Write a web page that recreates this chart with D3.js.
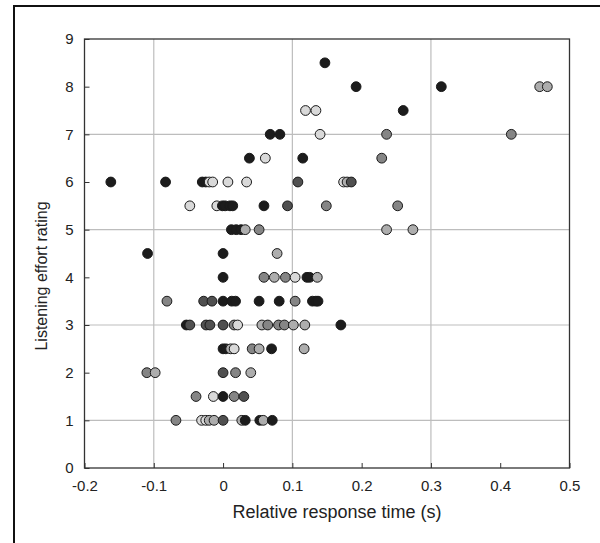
<!DOCTYPE html>
<html>
<head>
<meta charset="utf-8">
<script src="https://d3js.org/d3.v7.min.js"></script>
<style>
body { margin: 0; background: #fff; }
svg { display: block; font-family: 'Liberation Sans', Arial, sans-serif; }
</style>
</head>
<body>
<svg id="chart" width="600" height="543"></svg>
<script>
// points as [relative response time, effort rating], one list per grey level
var blackPts = [
  [0.147, 8.5], [0.192, 8], [0.315, 8], [0.260, 7.5], [0.068, 7], [0.082, 7],
  [0.038, 6.5], [0.115, 6.5], [-0.162, 6], [-0.083, 6], [-0.030, 6], [-0.025, 6],
  [-0.001, 5.5], [0.003, 5.5], [0.010, 5.5], [0.014, 5.5], [0.059, 5.5],
  [0.012, 5], [0.019, 5], [0.026, 5], [-0.109, 4.5], [0.000, 4.5],
  [0.000, 4], [0.121, 4], [0.125, 4],
  [0.000, 3.5], [0.0125, 3.5], [0.018, 3.5], [0.052, 3.5], [0.081, 3.5], [0.129, 3.5], [0.134, 3.5], [0.137, 3.5],
  [-0.053, 3], [0.170, 3], [0.000, 2.5], [0.004, 2.5], [0.070, 2.5],
  [0.000, 1.5], [0.032, 1], [0.053, 1], [0.071, 1]
];
var darkPts = [
  [0.108, 6], [0.185, 6], [0.093, 5.5], [-0.028, 3.5], [-0.016, 3.5],
  [-0.048, 3], [-0.0245, 3], [-0.019, 3], [0.000, 3], [0.000, 2], [0.030, 1.5], [0.000, 1]
];
var midPts = [
  [0.236, 7], [0.416, 7], [0.229, 6.5], [0.149, 5.5], [0.252, 5.5], [0.052, 5],
  [0.059, 4], [0.090, 4], [-0.081, 3.5], [0.104, 3.5],
  [0.016, 3], [0.0645, 3], [0.080, 3], [0.0885, 3], [0.042, 2.5],
  [-0.110, 2], [0.018, 2], [-0.039, 1.5], [0.016, 1.5], [-0.068, 1]
];
var lightPts = [
  [0.457, 8], [0.468, 8], [0.179, 6], [0.032, 5], [0.236, 5], [0.274, 5], [0.078, 4.5],
  [0.074, 4], [0.136, 4], [0.056, 3], [0.1015, 3], [0.118, 3],
  [0.011, 2.5], [0.052, 2.5], [0.117, 2.5], [-0.098, 2], [0.040, 2],
  [-0.020, 1], [-0.013, 1], [0.027, 1], [0.058, 1]
];
var palePts = [
  [0.119, 7.5], [0.134, 7.5], [0.140, 7], [0.061, 6.5],
  [-0.020, 6], [-0.015, 6], [0.007, 6], [0.034, 6], [0.174, 6],
  [-0.048, 5.5], [-0.009, 5.5], [0.104, 4], [0.021, 3], [0.016, 2.5],
  [-0.014, 1.5], [-0.031, 1], [-0.025, 1]
];
var xTicks = [-0.2, -0.1, 0, 0.1, 0.2, 0.3, 0.4, 0.5];
var yTicks = [0, 1, 2, 3, 4, 5, 6, 7, 8, 9];
var xGrid = [-0.1, 0.1, 0.3];
var yGrid = [1, 3, 5, 7];

var groups = [
  {pts: blackPts, fill: "#1c1c1c"},
  {pts: darkPts, fill: "#505050"},
  {pts: midPts, fill: "#858585"},
  {pts: lightPts, fill: "#adadad"},
  {pts: palePts, fill: "#d9d9d9"}
];

var plotL = 84.5, plotR = 569.5, plotT = 39, plotB = 468;
var svg = d3.select("#chart");

var x = d3.scaleLinear().domain([-0.2, 0.5]).range([plotL, plotR]);
var y = d3.scaleLinear().domain([0, 9]).range([plotB, plotT]);

// outer frame (only left and top show)
svg.append("path").attr("d", "M14,543V6H600")
  .attr("fill", "none").attr("stroke", "#111").attr("stroke-width", 2);

// grid
svg.selectAll(".vg").data(xGrid).enter().append("line")
  .attr("x1", d => x(d)).attr("x2", d => x(d)).attr("y1", plotT).attr("y2", plotB)
  .attr("stroke", "#bdbdbd").attr("stroke-width", 1.2);
svg.selectAll(".hg").data(yGrid).enter().append("line")
  .attr("y1", d => y(d)).attr("y2", d => y(d)).attr("x1", plotL).attr("x2", plotR)
  .attr("stroke", "#bdbdbd").attr("stroke-width", 1.2);

// axes with inward ticks
var fmt = function(d){ return String(Math.round(d * 10) / 10); };
var xAxis = svg.append("g").attr("transform", "translate(0," + plotB + ")")
  .call(d3.axisBottom(x).tickValues(xTicks).tickSizeInner(-5).tickSizeOuter(0)
    .tickPadding(12).tickFormat(fmt));
var yAxis = svg.append("g").attr("transform", "translate(" + plotL + ",0)")
  .call(d3.axisLeft(y).tickValues(yTicks).tickSizeInner(-5).tickSizeOuter(0)
    .tickPadding(11).tickFormat(fmt));
[xAxis, yAxis].forEach(function(a){
  a.select(".domain").remove();
  a.selectAll("line").attr("stroke", "#333");
  a.selectAll("text").attr("font-size", 15).attr("fill", "#222")
    .attr("font-family", "'Liberation Sans', Arial, sans-serif");
});

// plot box
svg.append("rect").attr("x", plotL).attr("y", plotT)
  .attr("width", plotR - plotL).attr("height", plotB - plotT)
  .attr("fill", "none").attr("stroke", "#333").attr("stroke-width", 1.3);

// points, drawn left to right so later ones overlap earlier ones
var all = [];
groups.forEach(function(g){ g.pts.forEach(function(p){ all.push({x: p[0], y: p[1], fill: g.fill}); }); });
all.sort(function(a, b){ return a.x - b.x; });
svg.selectAll("circle").data(all).enter().append("circle")
  .attr("cx", d => x(d.x)).attr("cy", d => y(d.y)).attr("r", 4.9)
  .attr("fill", d => d.fill).attr("stroke", "#1a1a1a").attr("stroke-width", 1);

// titles
svg.append("text").attr("x", 337).attr("y", 518).attr("text-anchor", "middle")
  .attr("font-size", 18).attr("fill", "#222").text("Relative response time (s)");
svg.append("text").attr("transform", "translate(47,276) rotate(-90)")
  .attr("text-anchor", "middle").attr("font-size", 16).attr("fill", "#222")
  .text("Listening effort rating");
</script>
</body>
</html>
